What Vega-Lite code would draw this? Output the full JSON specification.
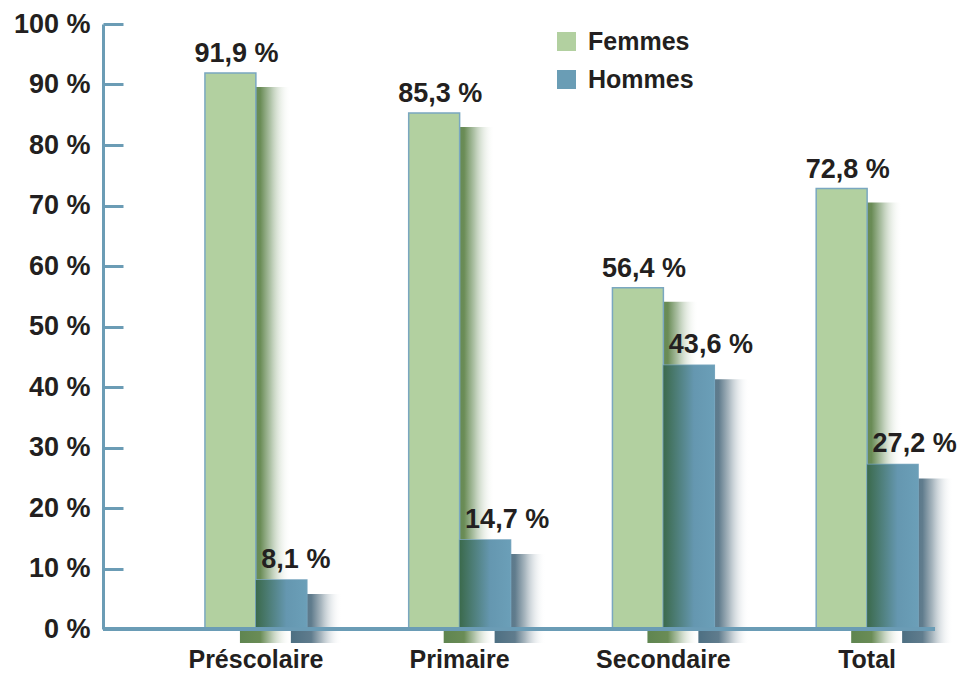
{
  "$schema": "https://vega.github.io/schema/vega-lite/v6.json",
  "width": 832,
  "height": 605,
  "autosize": {"type": "none"},
  "padding": {"left": 103, "top": 24, "right": 26, "bottom": 53},
  "background": "white",
  "config": {
    "view": {"stroke": null},
    "font": "Liberation Sans",
    "axis": {"grid": false}
  },
  "data": {
    "values": [
      {"cat": "Préscolaire", "sexe": "Femmes", "value": 91.9, "label": "91,9 %"},
      {"cat": "Préscolaire", "sexe": "Hommes", "value": 8.1, "label": "8,1 %"},
      {"cat": "Primaire", "sexe": "Femmes", "value": 85.3, "label": "85,3 %"},
      {"cat": "Primaire", "sexe": "Hommes", "value": 14.7, "label": "14,7 %"},
      {"cat": "Secondaire", "sexe": "Femmes", "value": 56.4, "label": "56,4 %"},
      {"cat": "Secondaire", "sexe": "Hommes", "value": 43.6, "label": "43,6 %"},
      {"cat": "Total", "sexe": "Femmes", "value": 72.8, "label": "72,8 %"},
      {"cat": "Total", "sexe": "Hommes", "value": 27.2, "label": "27,2 %"}
    ]
  },
  "encoding": {
    "y": {
      "field": "value", "type": "quantitative",
      "scale": {"domain": [0, 100], "nice": false},
      "axis": {"title": null, "values": [0, 10, 20, 30, 40, 50, 60, 70, 80, 90, 100],
        "labelExpr": "datum.value + ' %'", "domainColor": "#6b9cb5", "domainWidth": 3,
        "tickColor": "#6b9cb5", "tickWidth": 3, "tickSize": -20,
        "labelFontSize": 27, "labelFontWeight": "bold", "labelColor": "#231f20", "labelPadding": 33}
    }
  },
  "resolve": {"scale": {"x": "independent", "xOffset": "independent"}},
  "layer": [
    {
      "encoding": {
        "x": {
          "field": "cat", "type": "nominal",
          "sort": ["Préscolaire", "Primaire", "Secondaire", "Total"],
          "scale": {"range": [86, 901], "paddingInner": 0.5, "paddingOuter": 0.25},
          "axis": null
        },
        "xOffset": {"field": "sexe", "type": "nominal", "sort": ["Femmes", "Hommes"],
          "scale": {"paddingInner": 0, "paddingOuter": 0}}
      },
      "layer": [
        {
          "transform": [{"filter": "datum.sexe == 'Femmes'"}],
          "mark": {"type": "bar", "yOffset": 14, "y2Offset": 7,
            "fill": {"gradient": "linear", "x1": 0, "x2": 1, "y1": 0, "y2": 0,
              "stops": [{"offset": 0, "color": "#5f8550"}, {"offset": 0.4, "color": "#6a8c56"},
                {"offset": 0.6, "color": "rgba(110,145,96,0.55)"}, {"offset": 1, "color": "rgba(255,255,255,0)"}]}}
        },
        {
          "transform": [{"filter": "datum.sexe == 'Hommes'"}],
          "mark": {"type": "bar", "yOffset": 14, "y2Offset": 7,
            "fill": {"gradient": "linear", "x1": 0, "x2": 1, "y1": 0, "y2": 0,
              "stops": [{"offset": 0, "color": "#4d6f82"}, {"offset": 0.4, "color": "#607c8d"},
                {"offset": 0.6, "color": "rgba(100,125,140,0.55)"}, {"offset": 1, "color": "rgba(255,255,255,0)"}]}}
        }
      ]
    },
    {
      "encoding": {
        "x": {
          "field": "cat", "type": "nominal",
          "sort": ["Préscolaire", "Primaire", "Secondaire", "Total"],
          "scale": {"range": [51, 866], "paddingInner": 0.5, "paddingOuter": 0.25},
          "axis": {"title": null, "domain": false, "ticks": false, "labelAngle": 0,
            "labelFontSize": 25, "labelFontWeight": "bold", "labelColor": "#231f20", "labelPadding": 18}
        },
        "xOffset": {"field": "sexe", "type": "nominal", "sort": ["Femmes", "Hommes"],
          "scale": {"paddingInner": 0, "paddingOuter": 0}}
      },
      "layer": [
        {
          "mark": {"type": "bar", "stroke": "#7aa7c0", "strokeWidth": 1.5},
          "encoding": {
            "color": {"field": "sexe", "type": "nominal",
              "scale": {"domain": ["Femmes", "Hommes"], "range": ["#b2d0a0", "#6a9db5"]},
              "legend": {"title": null, "orient": "none", "legendX": 451, "legendY": 5,
                "symbolType": "square", "symbolSize": 361, "symbolStrokeWidth": 0,
                "labelFontSize": 25, "labelFontWeight": "bold", "labelColor": "#231f20",
                "labelOffset": 9, "rowPadding": 12}
            }
          }
        },
        {
          "transform": [{"filter": "datum.sexe == 'Hommes'"}],
          "mark": {"type": "bar",
            "fill": {"gradient": "linear", "x1": 0, "x2": 1, "y1": 0, "y2": 0,
              "stops": [{"offset": 0, "color": "#3b6a4c"}, {"offset": 0.6, "color": "#6597b0"}, {"offset": 1, "color": "#6b9fb8"}]}}
        },
        {
          "mark": {"type": "rule", "color": "#6b9cb5", "strokeWidth": 3},
          "encoding": {"y": {"datum": 0}, "x": null, "xOffset": null}
        },
        {
          "transform": [{"filter": "datum.sexe == 'Femmes'"}],
          "mark": {"type": "text", "fontSize": 27, "fontWeight": "bold", "color": "#231f20",
            "baseline": "alphabetic", "align": "center", "dx": 6, "dy": -11},
          "encoding": {"text": {"field": "label"}}
        },
        {
          "transform": [{"filter": "datum.sexe == 'Hommes'"}],
          "mark": {"type": "text", "fontSize": 27, "fontWeight": "bold", "color": "#231f20",
            "baseline": "alphabetic", "align": "left", "dx": -20, "dy": -12},
          "encoding": {"text": {"field": "label"}}
        }
      ]
    }
  ]
}
